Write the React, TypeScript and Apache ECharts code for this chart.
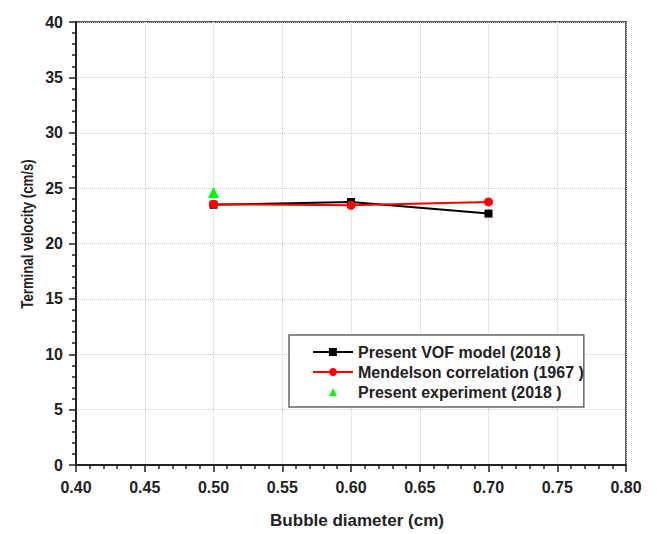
import React, { useEffect, useRef } from "react";
import * as echarts from "echarts";

const diameters = [0.5, 0.6, 0.7];
const vofModel = [23.5, 23.75, 22.7];
const mendelson = [23.55, 23.45, 23.75];
const experimentX = [0.5];
const experiment = [24.6];

const FONT = "'Liberation Sans', Arial, sans-serif";

export default function App() {
  const ref = useRef<HTMLDivElement>(null);
  useEffect(() => {
    if (!ref.current) return;
    const chart = echarts.init(ref.current, undefined, { renderer: "svg" });
    chart.setOption({
      animation: false,
      backgroundColor: "#fff",
      textStyle: { fontFamily: FONT },
      grid: {
        left: 76,
        right: 31,
        top: 22,
        bottom: 67,
        show: true,
        borderColor: "#222",
        borderWidth: 1.5,
        backgroundColor: "transparent",
      },
      graphic: [
        {
          type: "text",
          x: 27,
          y: 234,
          rotation: Math.PI / 2,
          scaleX: 0.8,
          style: {
            text: "Terminal velocity (cm/s)",
            fontFamily: FONT,
            fontWeight: "bold",
            fontSize: 16.5,
            fill: "#222",
            align: "center",
            verticalAlign: "middle",
          },
        },
      ],
      legend: {
        orient: "vertical",
        left: 289,
        top: 335,
        itemWidth: 40,
        itemHeight: 10,
        itemGap: 4,
        padding: [9, 0, 7, 23],
        borderColor: "#666",
        borderWidth: 1.5,
        backgroundColor: "#fff",
        textStyle: { fontFamily: FONT, fontWeight: "bold", fontSize: 16, color: "#222" },
        data: [
          { name: "Present VOF model (2018 )" },
          { name: "Mendelson correlation (1967 )" },
          { name: "Present experiment (2018 )" },
        ],
      },
      xAxis: {
        type: "value",
        min: 0.4,
        max: 0.8,
        interval: 0.05,
        name: "Bubble diameter (cm)",
        nameLocation: "middle",
        nameGap: 47,
        nameTextStyle: { fontFamily: FONT, fontWeight: "bold", fontSize: 17, color: "#222", padding: [0, 0, 0, 12] },
        axisLine: { show: true, lineStyle: { color: "#222", width: 2 } },
        axisTick: { show: true, inside: false, length: 7, lineStyle: { color: "#222", width: 1.5 } },
        minorTick: { show: true, splitNumber: 5, length: 4, lineStyle: { color: "#222", width: 1.5 } },
        splitLine: { show: true, lineStyle: { color: "#ccc", type: "dotted", width: 1 } },
        axisLabel: {
          fontFamily: FONT,
          fontWeight: "bold",
          fontSize: 16,
          color: "#222",
          margin: 14,
          formatter: (v: number) => v.toFixed(2),
        },
      },
      yAxis: {
        type: "value",
        min: 0,
        max: 40,
        interval: 5,
        axisLine: { show: true, lineStyle: { color: "#222", width: 2 } },
        axisTick: { show: true, inside: false, length: 7, lineStyle: { color: "#222", width: 1.5 } },
        minorTick: { show: true, splitNumber: 5, length: 4, lineStyle: { color: "#222", width: 1.5 } },
        splitLine: { show: true, lineStyle: { color: "#ccc", type: "dotted", width: 1 } },
        axisLabel: {
          fontFamily: FONT,
          fontWeight: "bold",
          fontSize: 16,
          color: "#222",
          margin: 13,
        },
      },
      series: [
        {
          name: "Present VOF model (2018 )",
          type: "line",
          data: diameters.map((d, i) => [d, vofModel[i]]),
          symbol: "rect",
          symbolSize: 8,
          color: "#000",
          lineStyle: { color: "#000", width: 2 },
          itemStyle: { color: "#000" },
          z: 2,
        },
        {
          name: "Mendelson correlation (1967 )",
          type: "line",
          data: diameters.map((d, i) => [d, mendelson[i]]),
          symbol: "circle",
          symbolSize: 9,
          color: "#ff0000",
          lineStyle: { color: "#ff0000", width: 2 },
          itemStyle: { color: "#ff0000" },
          z: 3,
        },
        {
          name: "Present experiment (2018 )",
          type: "line",
          data: experimentX.map((d, i) => [d, experiment[i]]),
          symbol: "triangle",
          symbolSize: 11,
          color: "#00ff00",
          lineStyle: { opacity: 0, width: 0 },
          itemStyle: { color: "#00ff00" },
          z: 4,
        },
      ],
    });
    return () => chart.dispose();
  }, []);
  return <div ref={ref} style={{ width: 657, height: 534, position: "absolute", left: 0, top: 0 }} />;
}
